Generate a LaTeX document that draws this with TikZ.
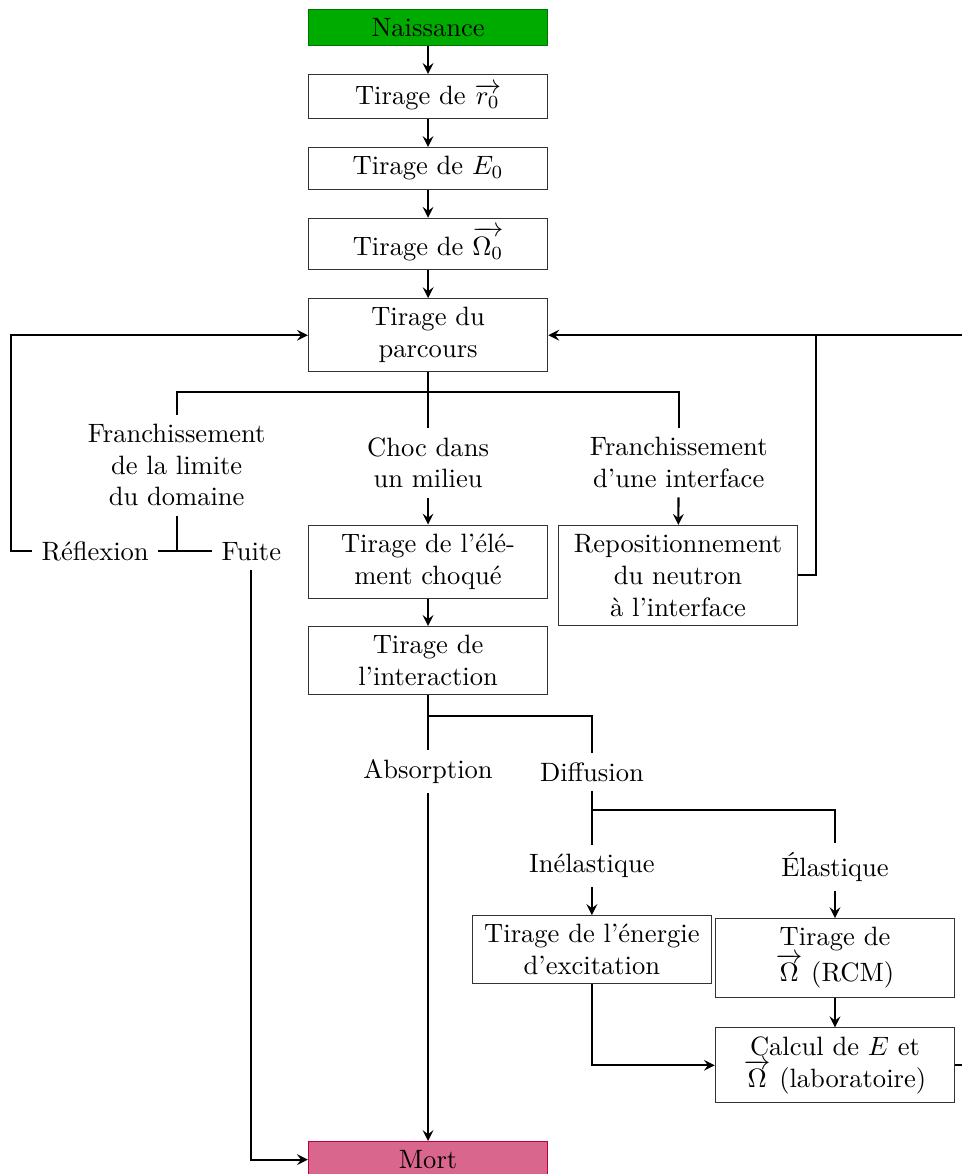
\documentclass[tikz,border=0pt]{standalone}
\usepackage{amsmath}
\usepackage{amssymb}
\usepackage{xcolor}
\usepackage{tikz}

\tikzset{
  etape/.style={rectangle, draw=black!80, minimum width=3.17cm, align=center},
  choix/.style={align=center},
  fleche/.style={->, >=stealth, thick, black},
  trait/.style={thick, black}
}

\begin{document}
\begin{tikzpicture}
            \useasboundingbox (0,0) rectangle (12.73,-15.55);
            \node[etape, fill=green!67!black, draw=green!45!black] (naissance) at (5.67, -0.36) {Naissance};
            \node[etape] (r0) at (5.67, -1.28) {Tirage de $\overrightarrow{r_0}$};
            \node[etape] (e0) at (5.67, -2.23) {Tirage de $E_0$};
            \node[etape] (omega0) at (5.67, -3.23) {Tirage de $\overrightarrow{\Omega_0}$};
            \node[etape] (parcours) at (5.67, -4.44) {Tirage du\\parcours};
            \node[choix] (limite) at (2.34, -6.16) {Franchissement\\de la limite\\du domaine};
            \node[choix] (choc) at (5.67, -6.13) {Choc dans\\un milieu};
            \node[choix] (interf) at (8.99, -6.13) {Franchissement\\d'une interface};
            \node[choix] (reflexion) at (1.26, -7.30) {Réflexion};
            \node[choix] (fuite) at (3.33, -7.30) {Fuite};
            \node[etape] (element) at (5.67, -7.44) {Tirage de l'élé-\\ment choqué};
            \node[etape] (repos) at (8.98, -7.62) {Repositionnement\\du neutron\\à l'interface};
            \node[etape] (interaction) at (5.67, -8.75) {Tirage de\\l'interaction};
            \node[choix] (absorption) at (5.67, -10.22) {Absorption};
            \node[choix] (diffusion) at (7.84, -10.23) {Diffusion};
            \node[choix] (inelastique) at (7.84, -11.47) {Inélastique};
            \node[choix] (elastique) at (11.06, -11.48) {Élastique};
            \node[etape] (energie) at (7.84, -12.58) {Tirage de l'énergie\\d'excitation};
            \node[etape] (rcm) at (11.06, -12.69) {Tirage de\\$\overrightarrow{\Omega}$ (RCM)};
            \node[etape] (calcul) at (11.06, -14.11) {Calcul de $E$ et\\$\overrightarrow{\Omega}$ (laboratoire)};
            \node[etape, fill=purple!60, draw=purple] (mort) at (5.67, -15.36) {Mort};
            \coordinate (b1) at (5.67, -5.19);
            \coordinate (b2) at (5.67, -9.48);
            \coordinate (b3) at (7.84, -10.73);
            \coordinate (retour) at (10.81, -4.44);
            \draw[fleche] (naissance) -- (r0);
            \draw[fleche] (r0) -- (e0);
            \draw[fleche] (e0) -- (omega0);
            \draw[fleche] (omega0) -- (parcours);
            \draw[trait] (parcours) -- (choc);
            \draw[trait] (limite.north) |- (b1) -| (interf.north);
            \draw[trait] (limite.south) -- (limite.south |- reflexion);
            \draw[trait] (reflexion) -- (fuite);
            \draw[fleche] (reflexion.west) -- ++(-0.28,0) |- (parcours.west);
            \draw[fleche] (fuite.south) |- (mort.west);
            \draw[fleche] (choc) -- (element);
            \draw[fleche] (interf) -- (repos);
            \draw[trait] (repos.east) -| (retour);
            \draw[fleche] (element) -- (interaction);
            \draw[trait] (interaction) -- (absorption);
            \draw[trait] (b2) -| (diffusion.north);
            \draw[fleche] (absorption) -- (mort);
            \draw[trait] (diffusion) -- (inelastique);
            \draw[trait] (b3) -| (elastique.north);
            \draw[fleche] (inelastique) -- (energie);
            \draw[fleche] (elastique) -- (rcm);
            \draw[fleche] (rcm) -- (calcul);
            \draw[fleche] (energie.south) |- (calcul.west);
            \draw[fleche] (calcul.east) -- ++(0.5,0) |- (parcours.east);
        \end{tikzpicture}
\end{document}
